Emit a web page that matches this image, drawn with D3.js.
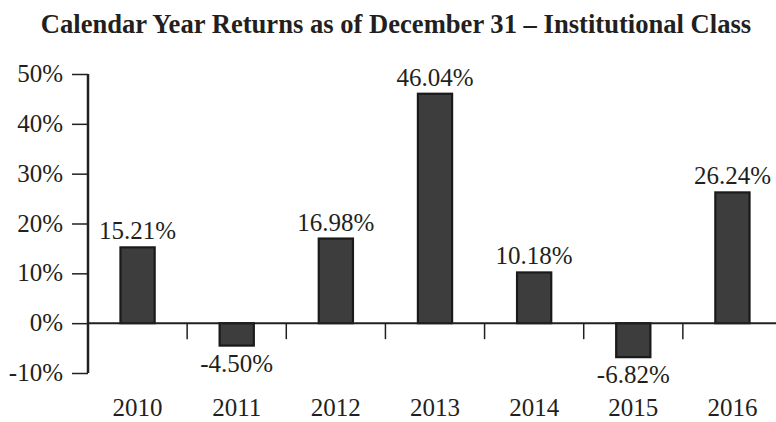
<!DOCTYPE html>
<html><head><meta charset="utf-8">
<script src="https://cdn.jsdelivr.net/npm/d3@7"></script>
<style>body{margin:0;background:#fff}svg{display:block}svg text{font-family:"Liberation Serif","Times New Roman",serif !important;fill:#231f20}</style>
</head><body><svg id="c" width="776" height="422"></svg>
<script>
const title = "Calendar Year Returns as of December 31 – Institutional Class";
const years = ["2010","2011","2012","2013","2014","2015","2016"];
const returns = [15.21, -4.50, 16.98, 46.04, 10.18, -6.82, 26.24];
const yTicks = [-10, 0, 10, 20, 30, 40, 50];

const svg = d3.select("#c");
const x = d3.scaleBand().domain(years).range([88, 782]);
const y = d3.scaleLinear().domain([-10, 50]).range([373, 74]);
const bw = x.bandwidth() * 0.345;
const serif = '"Liberation Serif","Times New Roman",serif';

svg.append("text").attr("x", 396).attr("y", 33).attr("text-anchor", "middle")
  .attr("font-family", serif)
  .style("font-weight", "bold").style("font-size", "26.6px").text(title);

// y axis
const yAxis = d3.axisLeft(y).tickValues(yTicks).tickSize(16).tickPadding(9)
  .tickFormat(d => d + "%");
const ga = svg.append("g").attr("transform", "translate(88,0)").call(yAxis)
  .attr("font-family", serif);
ga.select(".domain").remove();
ga.selectAll(".tick line").attr("stroke", "#231f20").attr("stroke-width", 1.5);
ga.selectAll(".tick text").attr("dy", "0.3em").style("font-size", "25px").attr("fill", "#231f20");
svg.append("line").attr("x1", 88).attr("x2", 88).attr("y1", y(50)).attr("y2", y(-10))
  .attr("stroke", "#231f20").attr("stroke-width", 2.5);

// bars
svg.selectAll("rect.bar").data(returns).join("rect").attr("class", "bar")
  .attr("x", (d, i) => x(years[i]) + x.bandwidth() / 2 - bw / 2)
  .attr("width", bw)
  .attr("y", d => y(Math.max(0, d)))
  .attr("height", d => Math.abs(y(d) - y(0)))
  .attr("fill", "#3d3d3d").attr("stroke", "#1a1a1a").attr("stroke-width", 2.2);

// zero line
svg.append("line").attr("x1", 88).attr("x2", 776).attr("y1", y(0)).attr("y2", y(0))
  .attr("stroke", "#231f20").attr("stroke-width", 2);

// separators
svg.selectAll("line.sep").data(years.slice(1)).join("line").attr("class", "sep")
  .attr("x1", d => x(d)).attr("x2", d => x(d))
  .attr("y1", y(0)).attr("y2", y(0) + 16)
  .attr("stroke", "#231f20").attr("stroke-width", 1.5);

// value labels
svg.selectAll("text.val").data(returns).join("text").attr("class", "val")
  .attr("x", (d, i) => x(years[i]) + x.bandwidth() / 2)
  .attr("y", d => d >= 0 ? y(d) - 8 : y(d) + 26)
  .attr("text-anchor", "middle").attr("font-family", serif).style("font-size", "25px")
  .text(d => d.toFixed(2) + "%");

// year labels
svg.selectAll("text.yr").data(years).join("text").attr("class", "yr")
  .attr("x", d => x(d) + x.bandwidth() / 2).attr("y", 416)
  .attr("text-anchor", "middle").attr("font-family", serif).style("font-size", "25px").text(d => d);
</script></body></html>
